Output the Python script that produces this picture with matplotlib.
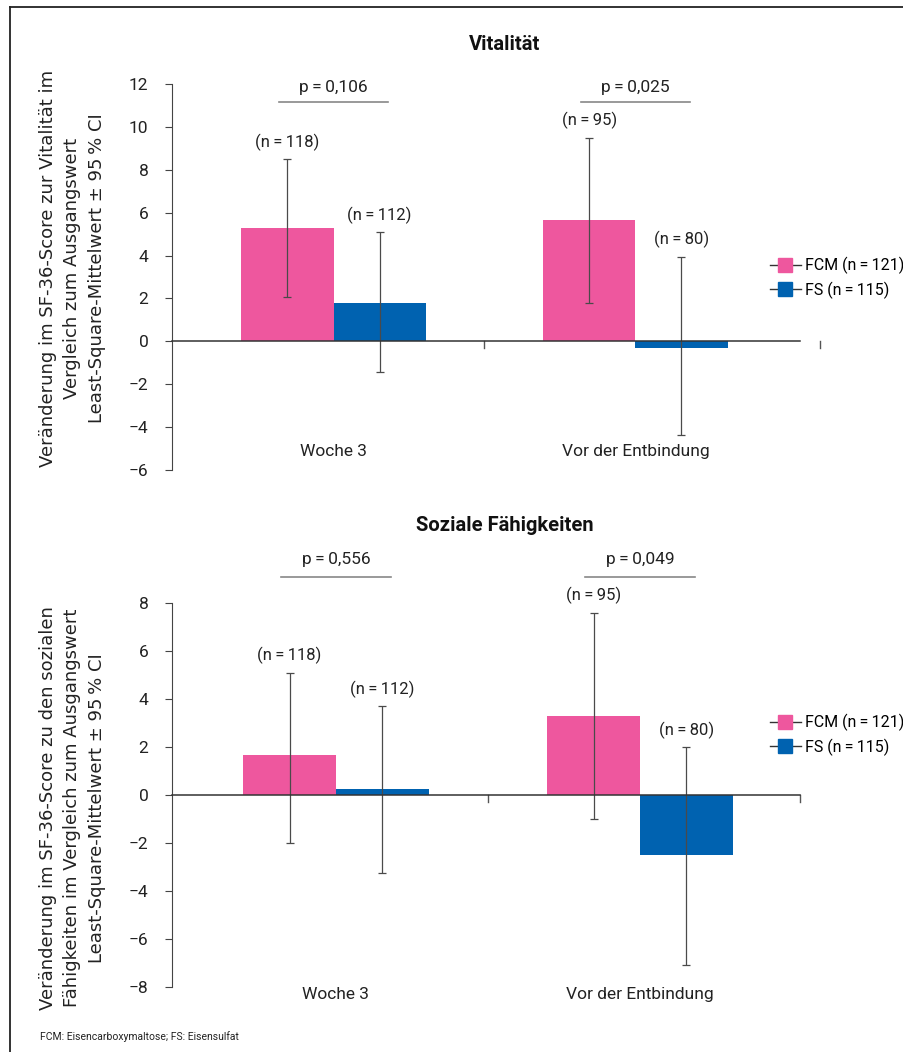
import matplotlib.pyplot as plt
from matplotlib.lines import Line2D

pink = '#EE579E'
blue = '#0062B0'
errc = '#4a4a4a'

groups = ['Woche 3', 'Vor der Entbindung']
legend_labels = ['FCM (n\u2009=\u2009121)', 'FS (n\u2009=\u2009115)']

# Vitalität
vit_fcm = [5.28, 5.65]
vit_fcm_lo = [2.05, 1.8]
vit_fcm_hi = [8.5, 9.5]
vit_fs = [1.78, -0.3]
vit_fs_lo = [-1.45, -4.35]
vit_fs_hi = [5.1, 3.95]
vit_n_fcm = ['(n\u2009=\u2009118)', '(n\u2009=\u200995)']
vit_n_fs = ['(n\u2009=\u2009112)', '(n\u2009=\u200980)']
vit_p = ['p\u2009=\u20090,106', 'p\u2009=\u20090,025']

# Soziale Fähigkeiten
soz_fcm = [1.67, 3.3]
soz_fcm_lo = [-2.0, -1.0]
soz_fcm_hi = [5.1, 7.6]
soz_fs = [0.25, -2.5]
soz_fs_lo = [-3.25, -7.1]
soz_fs_hi = [3.7, 2.0]
soz_n_fcm = ['(n\u2009=\u2009118)', '(n\u2009=\u200995)']
soz_n_fs = ['(n\u2009=\u2009112)', '(n\u2009=\u200980)']
soz_p = ['p\u2009=\u20090,556', 'p\u2009=\u20090,049']

cond = 'Roboto'
fig = plt.figure(figsize=(9.04, 10.52), dpi=100)

w = 0.305


def panel(rect, xlim, ylim, ticks, title, title_y, fcm, fcm_lo, fcm_hi, fs, fs_lo, fs_hi,
          n_fcm, n_fs, pvals, p_y, pline_y, cat_y, right_tick, ylabel, ylab_y, leg_y):
    ax = fig.add_axes(rect)
    x = [0, 1]
    xf = [i - w / 2 for i in x]
    xs = [i + w / 2 for i in x]
    ax.bar(xf, fcm, width=w, color=pink, zorder=2)
    ax.bar(xs, fs, width=w, color=blue, zorder=2)
    for i in range(2):
        ax.errorbar(xf[i], fcm[i], yerr=[[fcm[i] - fcm_lo[i]], [fcm_hi[i] - fcm[i]]],
                    fmt='none', ecolor=errc, elinewidth=0.9, capsize=3, capthick=0.9, zorder=3)
        ax.errorbar(xs[i], fs[i], yerr=[[fs[i] - fs_lo[i]], [fs_hi[i] - fs[i]]],
                    fmt='none', ecolor=errc, elinewidth=0.9, capsize=3, capthick=0.9, zorder=3)
        ax.annotate(n_fcm[i], (xf[i], fcm_hi[i]), xytext=(0, 6), textcoords='offset points',
                    ha='center', va='bottom', fontsize=12, family=cond, color='#222')
        ax.annotate(n_fs[i], (xs[i], fs_hi[i]), xytext=(0, 6), textcoords='offset points',
                    ha='center', va='bottom', fontsize=12, family=cond, color='#222')
        ax.text(x[i], p_y, pvals[i], ha='center', va='center', fontsize=12.5,
                family=cond, color='#222', clip_on=False)
        ax.plot([x[i] - 0.18, x[i] + 0.18], [pline_y, pline_y], color='#888', lw=1.2,
                clip_on=False)
        ax.text(x[i], cat_y, groups[i], ha='center', va='center', fontsize=12.5,
                family=cond, color='#222', clip_on=False)
    ax.plot([xlim[0], xlim[1]], [0, 0], color='#333', lw=1.1, zorder=4, clip_on=False)
    span = ylim[1] - ylim[0]
    for tx in [0.5, right_tick]:
        ax.plot([tx, tx], [0, -span * 0.018], color='#555', lw=1, clip_on=False)
    ax.set_xlim(xlim)
    ax.set_ylim(ylim)
    ax.set_yticks(ticks)
    ax.set_yticklabels([str(t).replace('-', '\u2212') for t in ticks], family=cond, fontsize=12.5)
    ax.set_xticks([])
    for s in ['top', 'right', 'bottom']:
        ax.spines[s].set_visible(False)
    ax.spines['left'].set_color('#444')
    ax.tick_params(axis='y', length=5, color='#444', pad=12, labelcolor='#222')
    fig.text(505 / 904, title_y, title, fontsize=14.5, fontweight='bold', family=cond,
             ha='center', va='center', color='#111')
    fig.text(0.08, ylab_y, ylabel, rotation=90, ha='center', va='center',
             fontsize=13, family='DejaVu Sans', linespacing=1.45, color='#222',
             multialignment='center')
    handles = [Line2D([], [], color='#333', lw=1, marker='s', markersize=10,
                      markerfacecolor=pink, markeredgecolor=pink),
               Line2D([], [], color='#333', lw=1, marker='s', markersize=10,
                      markerfacecolor=blue, markeredgecolor=blue)]
    fig.legend(handles, legend_labels, loc='center left', bbox_to_anchor=(0.845, leg_y),
               frameon=False, handlelength=1.9, handletextpad=0.25, labelspacing=0.45,
               borderaxespad=0, prop={'family': cond, 'size': 11.5})
    return ax


panel([172 / 904, 1 - 470 / 1052, 628 / 904, 386 / 1052], (-0.535, 1.545), (-6, 12),
      list(range(-6, 13, 2)), 'Vitalität', 1 - 45 / 1052, vit_fcm, vit_fcm_lo, vit_fcm_hi,
      vit_fs, vit_fs_lo, vit_fs_hi, vit_n_fcm, vit_n_fs, vit_p, 11.85, 11.15, -5.15, 1.61,
      'Veränderung im SF-36-Score zur Vitalität im\nVergleich zum Ausgangswert\n'
      'Least-Square-Mittelwert \u00b1 95\u2009% CI', 1 - 268 / 1052, 1 - 278 / 1052)

panel([172 / 904, 1 - 987 / 1052, 628 / 904, 384 / 1052], (-0.539, 1.526), (-8, 8),
      list(range(-8, 9, 2)), 'Soziale Fähigkeiten', 1 - 525 / 1052, soz_fcm, soz_fcm_lo,
      soz_fcm_hi, soz_fs, soz_fs_lo, soz_fs_hi, soz_n_fcm, soz_n_fs, soz_p, 9.8, 9.1, -8.3,
      1.526,
      'Veränderung im SF-36-Score zu den sozialen\nFähigkeiten im Vergleich zum Ausgangswert\n'
      'Least-Square-Mittelwert \u00b1 95\u2009% CI', 1 - 808 / 1052, 1 - 735 / 1052)

fig.text(40 / 904, 1 - 1037 / 1052, 'FCM: Eisencarboxymaltose; FS: Eisensulfat',
         fontsize=7.5, family=cond, color='#222', va='center')

fig.add_artist(Line2D([10 / 904, 10 / 904], [0, 1 - 7 / 1052], color='#222', lw=1.3))
fig.add_artist(Line2D([10 / 904, 1], [1 - 7 / 1052, 1 - 7 / 1052], color='#222', lw=1.3))

fig.savefig('out.png', dpi=100)
